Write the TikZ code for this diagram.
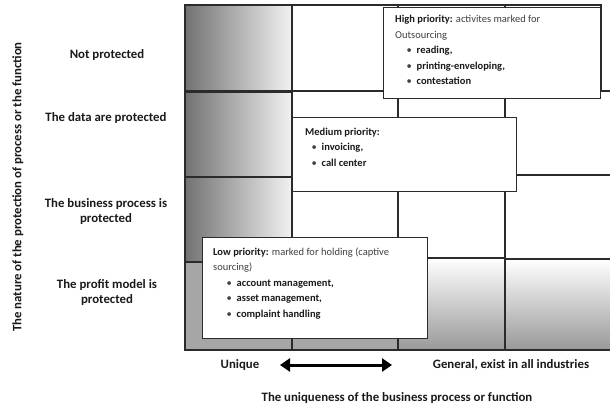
\documentclass[tikz,border=0pt]{standalone}
\usepackage{fontspec}
\setmainfont{Carlito}
\usetikzlibrary{arrows.meta}

\definecolor{edge}{HTML}{2B2B2B}
\definecolor{ink}{HTML}{1A1A1A}
\definecolor{soft}{HTML}{404040}
\definecolor{shade}{HTML}{727272}
\definecolor{flat}{HTML}{A6A6A6}

% bullet line inside a priority box: #1 indent of the bullet, #2 item text
\newcommand{\bitem}[2]{\hspace*{#1}\makebox[10pt][l]{\textbullet}\textbf{\color{ink}#2}}

\begin{document}
\begin{tikzpicture}[x=1pt,y=-1pt,
  cell/.style={draw=edge, line width=1.1pt},
  sidecell/.style={cell, left color=shade, right color=white!95!black},
  flatcell/.style={cell, fill=flat},
  fadecell/.style={cell, top color=white, bottom color=flat!92!black},
  prio/.style={draw=edge, line width=1.1pt, fill=white, anchor=north west, inner sep=0pt},
  prtext/.style={anchor=north west, align=left, inner sep=0pt, text=soft,
    font=\fontsize{10.5}{15.5}\selectfont},
  rowlab/.style={align=center, text=ink, font=\bfseries\fontsize{12.8}{15}\selectfont},
  axlab/.style={text=ink, font=\bfseries\fontsize{12.8}{14}\selectfont}]

\useasboundingbox (0,0) rectangle (610,410);

% matrix of cells
\begin{scope}
\clip (0,0) rectangle (610,410);
% top row
\path[sidecell] (185,5) rectangle (292,91);
\path[cell] (292,5) rectangle (398,91);
\path[cell] (398,5) rectangle (505,91);
\path[cell] (505,5) rectangle (601,91);
% second row
\path[sidecell] (185,92) rectangle (292,177);
\path[cell] (292,91) rectangle (398,180);
\path[cell] (398,91) rectangle (505,180);
\path[cell] (505,91) rectangle (616,175);
% third row
\path[sidecell] (185,177) rectangle (292,262);
\path[cell] (292,180) rectangle (398,258);
\path[cell] (398,180) rectangle (505,258);
\path[cell] (505,175) rectangle (616,259);
% bottom row
\path[flatcell] (185,262) rectangle (292,350);
\path[flatcell] (292,262) rectangle (398,350);
\path[fadecell] (398,258) rectangle (505,350);
\path[fadecell] (505,259) rectangle (616,350);
\end{scope}

% priority boxes
\node[prio, minimum width=217pt, minimum height=91pt] (high) at (383,7) {};
\node[prtext] (hightext) at (395,15)
  {\textbf{\color{ink}High priority:} activites marked for\\
   Outsourcing\\
   \bitem{11.5pt}{reading,}\\
   \bitem{11.5pt}{printing-enveloping,}\\
   \bitem{11.5pt}{contestation}};

\node[prio, minimum width=224pt, minimum height=74pt] (medium) at (292,117) {};
\node[prtext] (mediumtext) at (305,127.5)
  {\textbf{\color{ink}Medium priority:}\\
   \bitem{6.5pt}{invoicing,}\\
   \bitem{6.5pt}{call center}};

\node[prio, minimum width=225pt, minimum height=101pt] (low) at (202,237) {};
\node[prtext] (lowtext) at (213,247.5)
  {\textbf{\color{ink}Low priority:} marked for holding (captive\\
   sourcing)\\
   \bitem{13.5pt}{account management,}\\
   \bitem{13.5pt}{asset management,}\\
   \bitem{13.5pt}{complaint handling}};

% row labels
\node[rowlab] (notprot) at (107,55) {Not protected};
\node[rowlab] (dataprot) at (106,118) {The data are protected};
\node[rowlab] (busprot) at (106,212) {The business process is\\protected};
\node[rowlab] (profprot) at (107,292) {The profit model is\\protected};

% axis titles
\node[axlab, rotate=90] (yaxis) at (18,187) {The nature of the protection of process or the function};
\node[axlab] (xaxis) at (397,398) {The uniqueness of the business process or function};

% uniqueness scale
\node[axlab] (unique) at (240,365) {Unique};
\node[axlab] (general) at (511,365) {General, exist in all industries};
\coordinate (arrL) at (280,365);
\coordinate (arrR) at (392,365);
\draw[line width=3pt, {Triangle[length=10pt,width=13pt]}-{Triangle[length=10pt,width=13pt]}]
  (arrL) -- (arrR);
\end{tikzpicture}
\end{document}
